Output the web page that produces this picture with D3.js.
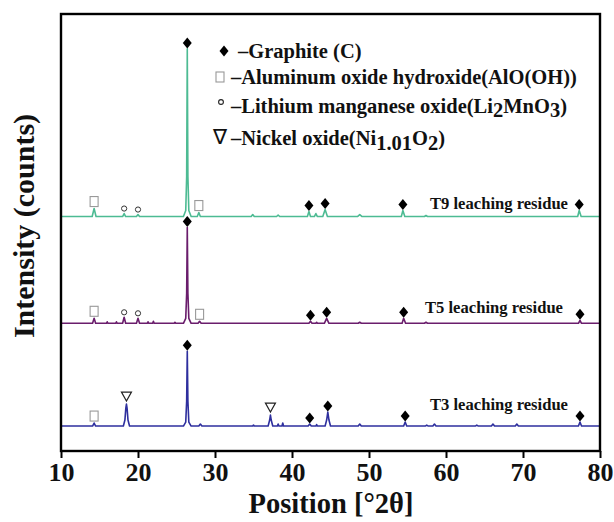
<!DOCTYPE html>
<html>
<head>
<meta charset="utf-8">
<script src="https://cdn.jsdelivr.net/npm/d3@7"></script>
<style>
  body { margin: 0; background: #fff; }
  text { font-family: "Liberation Serif", "Times New Roman", serif; font-weight: bold; fill: #111; }
</style>
</head>
<body>
<div id="vis"></div>
<script>
// XRD patterns: [2theta, counts above the trace baseline]
var t3Points = [[10,0],[14.1,0],[14.3,30],[14.5,0],[18.1,0],[18.3,60],[18.42,180],[18.5,220],[18.58,180],[18.7,60],[18.9,0],
  [25.9,0],[26.2,40],[26.32,250],[26.4,750],[26.48,250],[26.6,40],[26.9,0],[27.9,0],[28.1,20],[28.3,0],
  [34.9,0],[35.0,10],[35.1,0],[36.9,0],[37.1,60],[37.2,110],[37.3,60],[37.5,0],[38.1,0],[38.2,20],[38.3,0],[38.7,0],[38.8,30],[38.9,0],
  [42.1,0],[42.3,20],[42.5,0],[43.1,0],[43.2,15],[43.3,0],[44.3,0],[44.5,60],[44.65,140],[44.8,60],[45.0,0],
  [48.6,0],[48.8,20],[49.0,0],[54.5,0],[54.7,40],[54.9,0],[57.3,0],[57.5,10],[57.7,0],[58.3,0],[58.5,20],[58.7,0],
  [63.8,0],[64.0,10],[64.2,0],[65.9,0],[66.1,20],[66.3,0],[69.0,0],[69.2,20],[69.4,0],[77.2,0],[77.4,40],[77.6,0],[80,0]];

var t5Points = [[10,0],[14.1,0],[14.3,50],[14.5,0],[15.9,0],[16.0,15],[16.1,0],[17.1,0],[17.2,15],[17.3,0],[18.0,0],[18.2,60],[18.4,0],
  [19.8,0],[20.0,50],[20.2,0],[21.2,0],[21.3,15],[21.4,0],[21.9,0],[22.0,20],[22.1,0],[24.7,0],[24.8,10],[24.9,0],
  [25.9,0],[26.2,50],[26.32,300],[26.4,960],[26.48,300],[26.6,50],[26.9,0],[27.8,0],[28.0,20],[28.2,0],
  [42.2,0],[42.4,20],[42.6,0],[43.1,0],[43.2,10],[43.3,0],[44.2,0],[44.5,50],[44.8,0],[48.6,0],[48.8,10],[49.0,0],
  [54.3,0],[54.5,50],[54.75,0],[57.2,0],[57.4,10],[57.6,0],[77.2,0],[77.4,30],[77.6,0],[80,0]];

var t9Points = [[10,0],[14.05,0],[14.3,80],[14.55,0],[18.0,0],[18.2,30],[18.4,0],[19.8,0],[20.0,20],[20.2,0],
  [25.9,0],[26.2,60],[26.32,400],[26.4,1680],[26.48,400],[26.6,60],[26.9,0],[27.7,0],[27.9,40],[28.1,0],
  [34.7,0],[34.9,20],[35.1,0],[38.0,0],[38.2,15],[38.4,0],[42.0,0],[42.2,50],[42.4,0],[42.9,0],[43.1,30],[43.3,0],
  [44.0,0],[44.3,70],[44.6,0],[48.5,0],[48.8,20],[49.1,0],[54.2,0],[54.4,60],[54.65,0],[57.2,0],[57.4,10],[57.6,0],
  [77.1,0],[77.3,60],[77.55,0],[80,0]];

// phase markers: [2theta, phase]
var t3Marks = [[14.3,"square"],[18.5,"triangle"],[26.4,"diamond"],[37.2,"triangle"],[42.3,"diamond"],[44.65,"diamond"],[54.7,"diamond"],[77.4,"diamond"]];
var t5Marks = [[14.3,"square"],[18.2,"circle"],[20.0,"circle"],[26.4,"diamond"],[28.0,"square"],[42.4,"diamond"],[44.5,"diamond"],[54.5,"diamond"],[77.4,"diamond"]];
var t9Marks = [[14.3,"square"],[18.2,"circle"],[20.0,"circle"],[26.4,"diamond"],[27.9,"square"],[42.2,"diamond"],[44.3,"diamond"],[54.4,"diamond"],[77.3,"diamond"]];

var seriesNames = ["T3 leaching residue", "T5 leaching residue", "T9 leaching residue"];
var seriesOffsets = [0, 1030, 2100];
var seriesColors = ["#2e2f9e", "#6a1d6c", "#4dbb93"];
var xTicks = [10, 20, 30, 40, 50, 60, 70, 80];

var width = 614, height = 522;
var margin = {top: 14, right: 14, bottom: 71, left: 61};

var svg = d3.select("#vis").append("svg")
  .attr("width", width)
  .attr("height", height);

var x = d3.scaleLinear().domain([10, 80]).range([margin.left, width - margin.right]);
var y = d3.scaleLinear().domain([-250, 4130]).range([height - margin.bottom, margin.top]);

var line = d3.line()
  .x(function(d) { return x(d[0]); })
  .y(function(d) { return d[1]; });

var allPoints = [t3Points, t5Points, t9Points];
var allMarks = [t3Marks, t5Marks, t9Marks];

allPoints.forEach(function(pts, i) {
  var off = seriesOffsets[i];
  svg.append("path")
    .datum(pts.map(function(p) { return [p[0], y(p[1] + off)]; }))
    .attr("fill", "none")
    .attr("stroke", seriesColors[i])
    .attr("stroke-width", 1.6)
    .attr("stroke-linejoin", "round")
    .attr("d", line);
});

// top of the pattern near a given angle
function peakTop(pts, pos) {
  var m = 0;
  pts.forEach(function(p) { if (Math.abs(p[0] - pos) < 0.3 && p[1] > m) m = p[1]; });
  return m;
}

function drawMarker(g, kind, cx, cy) {
  if (kind == "diamond") {
    g.append("path").attr("d", "M" + cx + "," + (cy - 5.5) + "L" + (cx + 4.5) + "," + cy + "L" + cx + "," + (cy + 5.5) + "L" + (cx - 4.5) + "," + cy + "Z")
      .attr("fill", "#000");
  } else if (kind == "square") {
    g.append("rect").attr("x", cx - 4).attr("y", cy - 5).attr("width", 8).attr("height", 10)
      .attr("fill", "#fff").attr("stroke", "#999").attr("stroke-width", 1.1);
  } else if (kind == "circle") {
    g.append("circle").attr("cx", cx).attr("cy", cy).attr("r", 2.6)
      .attr("fill", "none").attr("stroke", "#333").attr("stroke-width", 1);
  } else if (kind == "triangle") {
    g.append("path").attr("d", "M" + (cx - 5) + "," + (cy - 5) + "L" + (cx + 5) + "," + (cy - 5) + "L" + cx + "," + (cy + 4) + "Z")
      .attr("fill", "#fff").attr("stroke", "#222").attr("stroke-width", 1.2);
  }
}

var markGroup = svg.append("g");
allMarks.forEach(function(marks, i) {
  marks.forEach(function(m) {
    var top = y(peakTop(allPoints[i], m[0]) + seriesOffsets[i]);
    var gap = m[1] == "diamond" ? 6 : (m[1] == "circle" ? 5 : 7);
    drawMarker(markGroup, m[1], x(m[0]), top - gap);
  });
});

// series labels
var labelPos = [[430, 410], [425, 313], [430, 209]];
seriesNames.forEach(function(name, i) {
  svg.append("text")
    .attr("x", labelPos[i][0]).attr("y", labelPos[i][1])
    .attr("font-size", 16.6)
    .text(name);
});

// frame
svg.append("rect")
  .attr("x", margin.left).attr("y", margin.top)
  .attr("width", width - margin.left - margin.right)
  .attr("height", height - margin.bottom - margin.top)
  .attr("fill", "none").attr("stroke", "#000").attr("stroke-width", 2.4);

// x axis
var xAxis = svg.append("g")
  .attr("transform", "translate(0," + (height - margin.bottom) + ")");
xAxis.call(d3.axisBottom(x).tickValues(d3.range(15, 80, 10)).tickSize(4).tickFormat(""));
xAxis.call(d3.axisBottom(x).tickValues(xTicks).tickSize(7).tickPadding(5).tickFormat(d3.format("d")));
xAxis.selectAll(".domain").remove();
xAxis.selectAll("line").attr("stroke", "#000").attr("stroke-width", 2);
xAxis.selectAll("text")
  .attr("font-size", 26)
  .attr("fill", "#111")
  .style("font-family", '"Liberation Serif", "Times New Roman", serif')
  .style("font-weight", "bold");

svg.append("text")
  .attr("x", 331).attr("y", 513)
  .attr("text-anchor", "middle")
  .attr("font-size", 28.5)
  .text("Position [°2θ]");

svg.append("text")
  .attr("transform", "translate(34,226) rotate(-90)")
  .attr("text-anchor", "middle")
  .attr("font-size", 30)
  .text("Intensity (counts)");

// legend
var legend = svg.append("g").attr("font-size", 20.5);
drawMarker(legend, "diamond", 224, 51);
legend.append("text").attr("x", 238).attr("y", 58).text("–Graphite (C)");
drawMarker(legend, "square", 220, 77);
legend.append("text").attr("x", 231).attr("y", 84).text("–Aluminum oxide hydroxide(AlO(OH))");
legend.append("circle").attr("cx", 221).attr("cy", 102).attr("r", 2.4).attr("fill", "none").attr("stroke", "#222").attr("stroke-width", 1.1);
var t3 = legend.append("text").attr("x", 231).attr("y", 113);
t3.append("tspan").text("–Lithium manganese oxide(Li");
t3.append("tspan").attr("dy", 4).text("2");
t3.append("tspan").attr("dy", -4).text("MnO");
t3.append("tspan").attr("dy", 4).text("3");
t3.append("tspan").attr("dy", -4).text(")");
legend.append("text").attr("x", 213).attr("y", 144).style("font-weight", "normal").text("∇");
var t4 = legend.append("text").attr("x", 231).attr("y", 145);
t4.append("tspan").text("–Nickel oxide(Ni");
t4.append("tspan").attr("dy", 5).text("1.01");
t4.append("tspan").attr("dy", -5).text("O");
t4.append("tspan").attr("dy", 5).text("2");
t4.append("tspan").attr("dy", -5).text(")");
</script>
</body>
</html>
